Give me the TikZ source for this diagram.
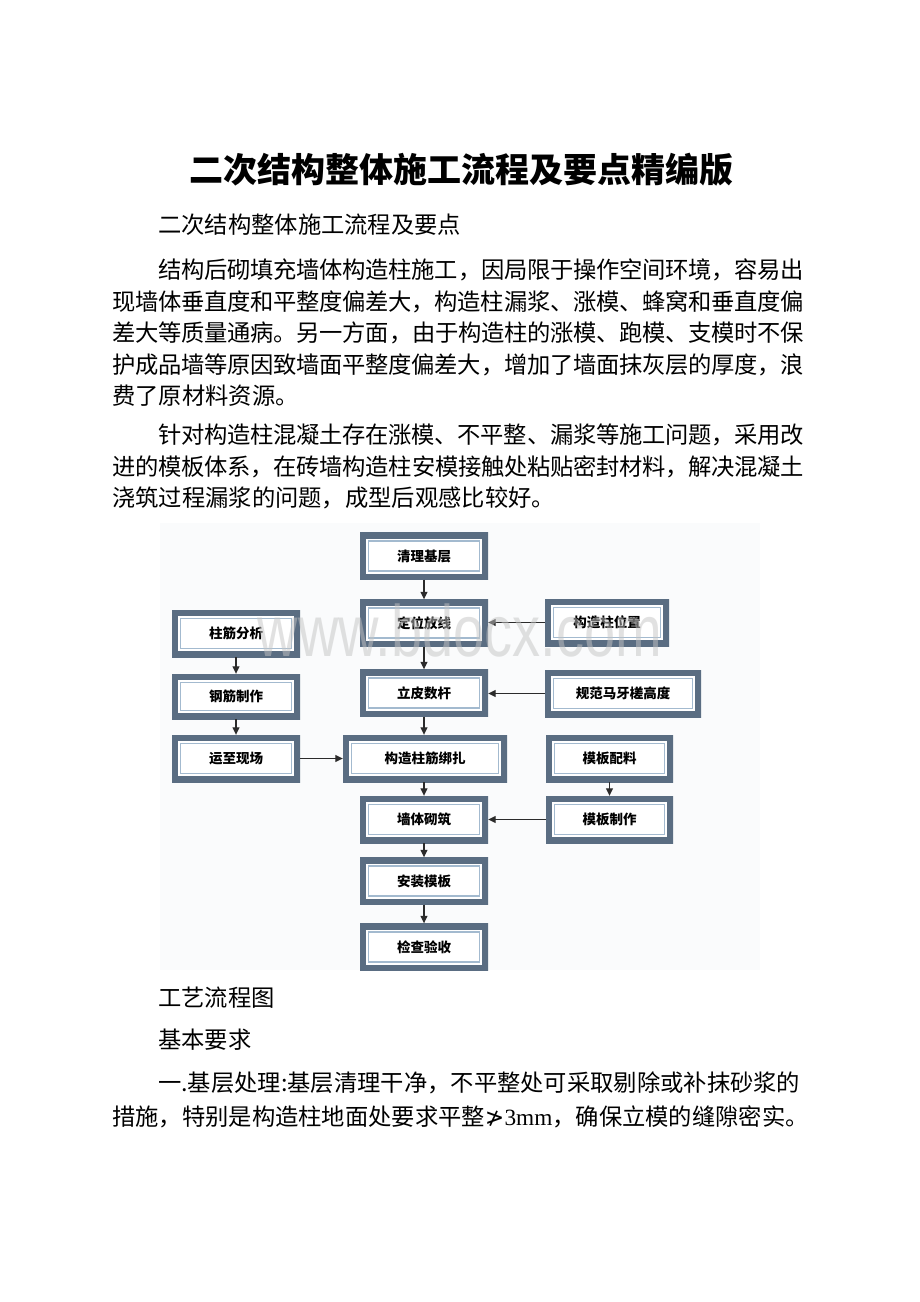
\documentclass[tikz,border=0pt]{standalone}
\usepackage{fontspec}
\newfontfamily\cjk{Noto Sans CJK SC}
\newfontfamily\wmfont{Liberation Sans}
\newfontfamily\symfont{DejaVu Sans}
\newfontfamily\latinserif{Liberation Serif}
\XeTeXlinebreaklocale "zh"
\XeTeXlinebreakskip=0pt plus 4pt minus 1.5pt
\usetikzlibrary{arrows.meta}
\definecolor{boxdark}{HTML}{5A6D82}
\definecolor{boxlight}{HTML}{A3BACF}
\definecolor{arrowcol}{HTML}{2B2B2B}
\definecolor{wmcol}{HTML}{C4C4C4}
\definecolor{diagbg}{HTML}{FAFBFC}
\tikzset{
  flowbox/.style={minimum width=128pt, minimum height=47pt, inner sep=0pt,
    fill=white, font=\cjk\bfseries\fontsize{13.5}{15}\selectfont,
    path picture={
      \draw[boxdark,line width=12pt] (path picture bounding box.south west) rectangle (path picture bounding box.north east);
      \draw[boxlight,line width=1.6pt] ([shift={(8.5pt,8.5pt)}]path picture bounding box.south west) rectangle ([shift={(-8.5pt,-8.5pt)}]path picture bounding box.north east);
    }},
  flowarrow/.style={draw=arrowcol, line width=1.1pt, -{Triangle[length=7.5pt,width=7pt]}},
  bodyline/.style={anchor=west, inner sep=0pt, font=\cjk\fontsize{23.3}{28}\selectfont},
  titletext/.style={inner sep=0pt, font=\cjk\bfseries\fontsize{34}{40}\selectfont},
}
\newcommand{\justline}[2]{\parbox{#1pt}{\tolerance=10000\hbadness=10000\parfillskip=0pt #2}}
\begin{document}
\begin{tikzpicture}[x=1pt,y=-1pt]
\useasboundingbox (0,0) rectangle (920,1302);
\fill[white] (0,0) rectangle (920,1302);

% title and text
\node[titletext] (title) at (461,170) {二次结构整体施工流程及要点精编版};
\node[bodyline] (sub) at (158,225) {二次结构整体施工流程及要点};

\node[bodyline] (p1a) at (158,270) {\justline{646}{结构后砌填充墙体构造柱施工，因局限于操作空间环境，容易出}};
\node[bodyline] (p1b) at (112,301.5) {\justline{692}{现墙体垂直度和平整度偏差大，构造柱漏浆、涨模、蜂窝和垂直度偏}};
\node[bodyline] (p1c) at (112,333) {\justline{692}{差大等质量通病。另一方面，由于构造柱的涨模、跑模、支模时不保}};
\node[bodyline] (p1d) at (112,364.5) {\justline{692}{护成品墙等原因致墙面平整度偏差大，增加了墙面抹灰层的厚度，浪}};
\node[bodyline] (p1e) at (112,396) {费了原材料资源。};

\node[bodyline] (p2a) at (158,435) {\justline{646}{针对构造柱混凝土存在涨模、不平整、漏浆等施工问题，采用改}};
\node[bodyline] (p2b) at (112,466.5) {\justline{692}{进的模板体系，在砖墙构造柱安模接触处粘贴密封材料，解决混凝土}};
\node[bodyline] (p2c) at (112,498) {浇筑过程漏浆的问题，成型后观感比较好。};

\node[bodyline] (cap) at (158,998) {工艺流程图};
\node[bodyline] (req) at (158,1040) {基本要求};
\node[bodyline] (p3a) at (158,1083) {\justline{642}{一.基层处理:基层清理干净，不平整处可采取剔除或补抹砂浆的}};
\node[bodyline] (p3b) at (112,1117) {措施，特别是构造柱地面处要求平整{\symfont ≯}{\latinserif 3mm}，确保立模的缝隙密实。};

% diagram
\begin{scope}
\clip (160,523) rectangle (760,970);
\fill[diagbg] (160,523) rectangle (760,970);

\node[flowbox] (qljc) at (424,556) {清理基层};
\node[flowbox] (dwfx) at (424,623) {定位放线};
\node[flowbox, minimum width=124pt] (gzzwz) at (607,622.5) {构造柱位置};
\node[flowbox] (zjfx) at (236,633.5) {柱筋分析};
\node[flowbox] (lpsg) at (424,693) {立皮数杆};
\node[flowbox, minimum width=156pt] (gfmy) at (623,693.5) {规范马牙槎高度};
\node[flowbox, minimum height=45pt] (gjzz) at (236,696.5) {钢筋制作};
\node[flowbox] (yzxc) at (236,758.5) {运至现场};
\node[flowbox, minimum width=164pt] (gzzj) at (425,758.5) {构造柱筋绑扎};
\node[flowbox, minimum width=127pt] (mbpl) at (609.5,758.5) {模板配料};
\node[flowbox] (qtqz) at (424,819.5) {墙体砌筑};
\node[flowbox, minimum width=127pt] (mbzz) at (609.5,819.5) {模板制作};
\node[flowbox] (azmb) at (424,881) {安装模板};
\node[flowbox] (jcys) at (424,947) {检查验收};

\draw[flowarrow] (qljc.south) -- (qljc.south |- dwfx.north);
\draw[flowarrow] (gzzwz.west) -- (gzzwz.west -| dwfx.east);
\draw[flowarrow] (dwfx.south) -- (dwfx.south |- lpsg.north);
\draw[flowarrow] (gfmy.west) -- (gfmy.west -| lpsg.east);
\draw[flowarrow] (lpsg.south) -- (lpsg.south |- gzzj.north);
\draw[flowarrow] (zjfx.south) -- (zjfx.south |- gjzz.north);
\draw[flowarrow] (gjzz.south) -- (gjzz.south |- yzxc.north);
\draw[flowarrow] (yzxc.east) -- (yzxc.east -| gzzj.west);
\draw[flowarrow] (gzzj.south -| qtqz.south) -- (qtqz.north);
\draw[flowarrow] (mbpl.south) -- (mbpl.south |- mbzz.north);
\draw[flowarrow] (mbzz.west) -- (mbzz.west -| qtqz.east);
\draw[flowarrow] (qtqz.south) -- (qtqz.south |- azmb.north);
\draw[flowarrow] (azmb.south) -- (azmb.south |- jcys.north);

\node[anchor=base, inner sep=0pt, yscale=1.3, text=wmcol, opacity=0.5,
  font=\wmfont\fontsize{56}{60}\selectfont] (wm) at (460,656) {www.bdocx.com};
\end{scope}
\end{tikzpicture}
\end{document}
